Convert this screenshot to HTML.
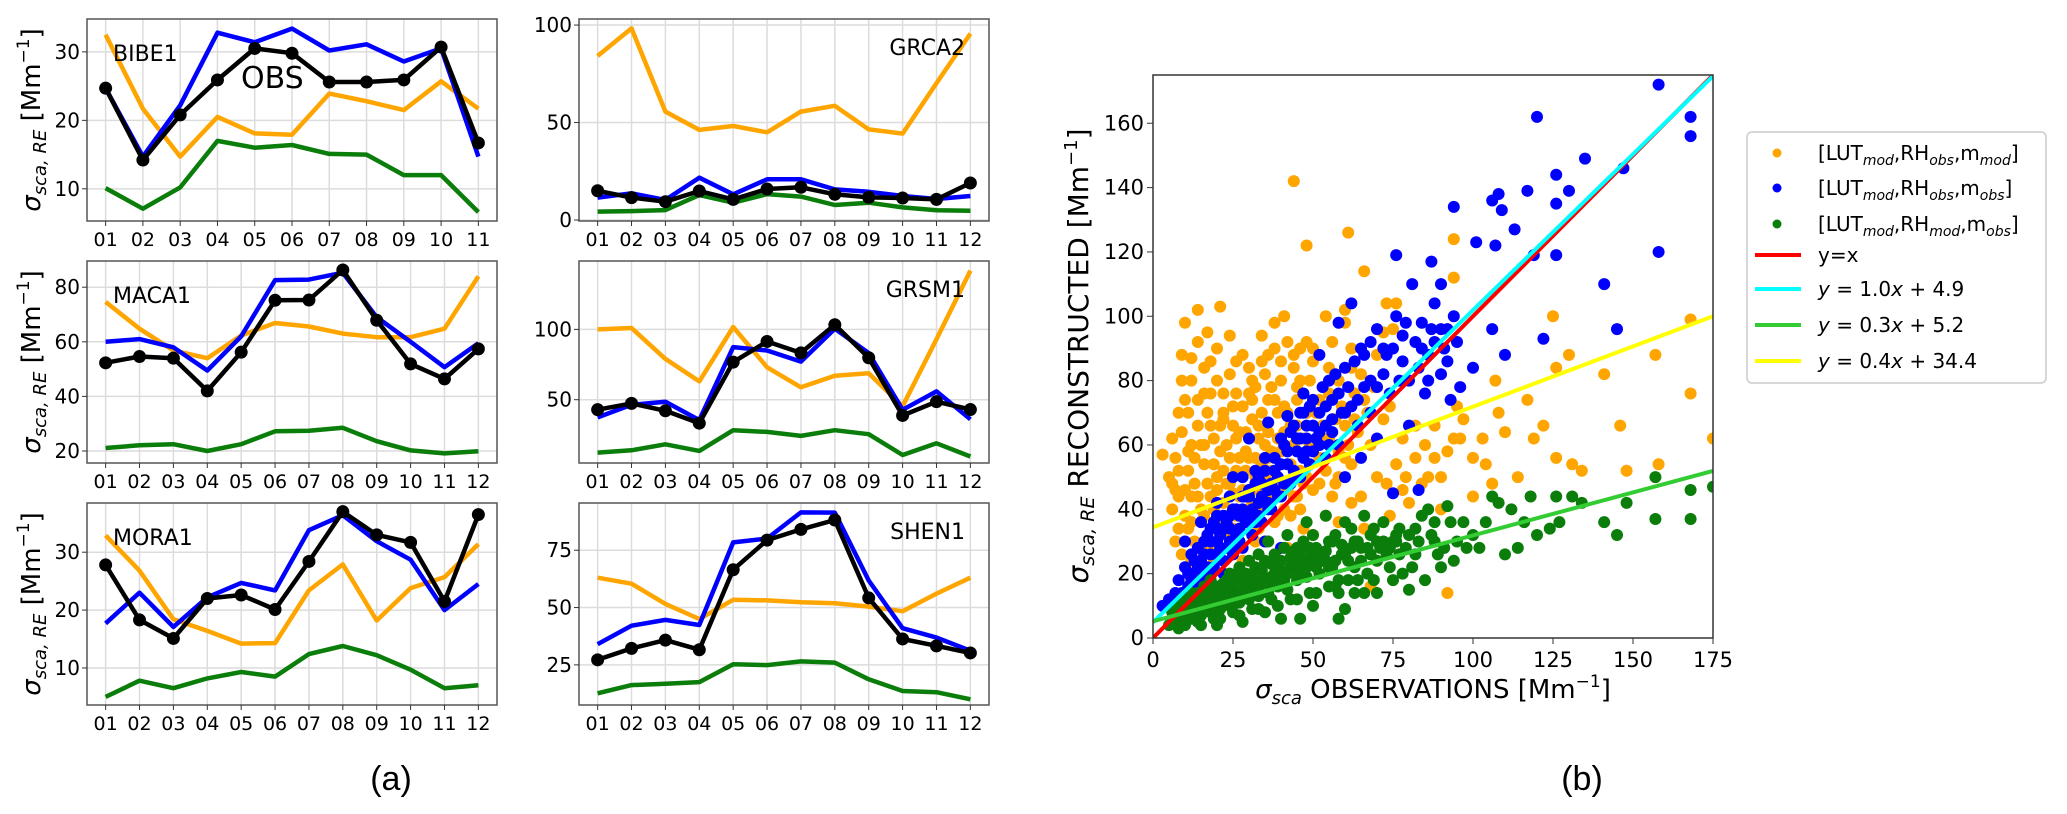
<!DOCTYPE html>
<html><head><meta charset="utf-8"><style>
html,body{margin:0;padding:0;background:#fff;}
svg{display:block;font-family:"DejaVu Sans","Liberation Sans",sans-serif;}
</style></head><body>
<svg id="fig" width="2067" height="814" xmlns="http://www.w3.org/2000/svg"></svg>
<script>
// ---------- Panel (a) data ----------
const monthsBIBE = ["01","02","03","04","05","06","07","08","09","10","11"];
const months12 = ["01","02","03","04","05","06","07","08","09","10","11","12"];
const bibeOrange = [32.5,21.7,14.7,20.5,18.1,17.9,23.9,22.8,21.5,25.7,21.7];
const bibeBlue = [24.7,14.7,22.2,32.8,31.4,33.4,30.2,31.1,28.6,30.5,14.7];
const bibeObs = [24.7,14.2,20.8,25.9,30.5,29.8,25.6,25.6,25.9,30.7,16.7];
const bibeGreen = [10.1,7.1,10.2,17.0,16.0,16.4,15.1,15.0,12.0,12.0,6.6];
const grcaOrange = [84.1,98.3,55.6,46.2,48.2,45.0,55.6,58.6,46.5,44.3,70.2,95.6];
const grcaBlue = [11.5,13.7,10.3,21.7,13.2,20.9,20.9,15.7,14.5,12.3,10.8,12.3];
const grcaObs = [15.0,11.5,9.4,14.9,10.6,15.9,16.8,13.2,11.6,11.3,10.6,19.0];
const grcaGreen = [4.3,4.6,5.1,12.8,8.9,13.3,12.0,7.7,8.9,6.5,5.0,4.8];
const macaOrange = [74.6,64.8,56.8,54.0,62.3,66.9,65.6,63.0,61.7,61.7,64.8,84.0];
const macaBlue = [60.0,61.0,58.0,49.5,62.0,82.6,82.8,85.3,69.0,60.0,50.7,59.5];
const macaObs = [52.3,54.6,54.0,42.0,56.2,75.2,75.3,86.3,67.9,51.9,46.4,57.4];
const macaGreen = [21.1,22.1,22.5,20.0,22.5,27.2,27.4,28.5,23.6,20.2,19.1,19.9];
const grsmOrange = [100,101,79,63,101.7,73,58.8,67,68.8,45.4,93,141.8];
const grsmBlue = [37.4,46.4,48.6,35.5,87.4,85,77.1,100.5,83.1,42.8,55.9,36.1];
const grsmObs = [42.9,47.4,42.1,33.3,76.7,91.4,83.3,103.3,79.8,38.8,48.6,43.0];
const grsmGreen = [12.4,14,18.3,13.6,28.3,27.1,24.3,28.3,25.5,10.7,19,9.6];
const moraOrange = [32.9,26.8,18.4,16.4,14.2,14.3,23.4,27.9,18.2,23.8,25.7,31.4];
const moraBlue = [17.7,23.0,17.1,22.2,24.7,23.4,33.8,36.4,31.9,28.7,20.0,24.5];
const moraObs = [27.8,18.3,15.1,22.0,22.6,20.1,28.4,37.0,33.0,31.7,21.5,36.5];
const moraGreen = [5.0,7.8,6.5,8.2,9.3,8.5,12.4,13.8,12.2,9.7,6.5,7.0];
const shenOrange = [63,60.4,51.6,45,53.4,53.1,52.3,51.9,50.4,48.4,56.1,63];
const shenBlue = [34,42.1,44.6,42.4,78.4,80.1,91.5,91.4,61.8,41,36.9,31.2];
const shenObs = [27.2,32.2,35.8,31.6,66.5,79.4,84.1,88.2,54.2,36.3,33.3,30.2];
const shenGreen = [12.6,16.2,16.8,17.5,25.3,24.9,26.5,26.0,18.7,13.6,13.1,10.0];
const ticksBIBE = [10,20,30];
const ticksGRCA = [0,50,100];
const ticksMACA = [20,40,60,80];
const ticksGRSM = [50,100];
const ticksMORA = [10,20,30];
const ticksSHEN = [25,50,75];

// ---------- Panel (b) data ----------
const xTicksB = [0,25,50,75,100,125,150,175];
const yTicksB = [0,20,40,60,80,100,120,140,160];
const fitSlopes = [1.0,0.97,0.267,0.375];
const fitIntercepts = [0,4.9,5.2,34.4];
const orangePtsA = [[44,142],[61,126],[48,122],[66,114],[94,124],[94,112],[21,103],[14,102],[10,98],[17,95],[24,94],[34,94],[41,100],[38,98],[60,98],[60,102],[54,100],[73,104],[76,104],[75,96],[72,95],[70,88],[9,88],[12,87],[9,80],[14,74],[18,76],[22,76],[28,72],[30,76],[31,80],[35,82],[40,80],[45,78],[50,86],[55,84],[58,80],[63,76],[66,74],[3,57],[6,62],[8,52],[10,46],[12,60],[14,66],[16,54],[19,62],[21,58],[23,48],[25,66],[27,56],[29,52],[31,68],[33,62],[35,50],[37,58],[39,70],[41,64],[43,54],[45,66],[47,48],[49,60],[52,56],[55,62],[57,48],[60,66],[62,54],[65,44],[68,60],[70,50],[73,48],[76,54],[79,50],[82,56],[85,60],[88,66],[90,50],[92,58],[95,72],[97,68],[100,56],[103,62],[106,48],[108,70],[114,50],[117,74],[119,62],[122,66],[125,100],[126,84],[126,56],[130,88],[131,54],[134,52],[141,82],[146,66],[148,52],[157,88],[158,54],[168,99],[168,76],[175,62],[107,80],[110,64],[6,40],[8,34],[10,30],[12,24],[15,40],[18,44],[20,36],[22,42],[26,38],[30,44],[34,40],[38,36],[42,28],[46,40],[50,32],[54,38],[58,36],[62,42],[66,34],[70,24],[74,38],[78,46],[80,42],[86,50],[92,14],[68,16],[28,24],[15,20],[20,28],[24,32],[11,70],[16,84],[26,86],[36,88],[46,90],[52,74],[56,92],[62,90],[5,50],[17,48],[27,44],[32,30],[13,56],[18,66],[24,56],[20,50],[26,62],[32,56],[36,64],[40,58],[44,60],[48,70],[11,52],[7,46],[22,68],[29,64],[38,74],[42,70],[16,60],[12,44],[19,40],[25,45],[33,46],[37,52],[53,66],[58,58],[64,64],[72,68],[88,56],[94,62],[100,44],[90,40],[20,80],[34,70],[44,84],[62,84],[74,72],[82,66],[96,62],[104,54],[78,62],[84,48]];
const orangePtsB = [[7,56],[9,64],[11,58],[13,48],[15,60],[17,70],[19,54],[21,66],[23,60],[25,72],[27,64],[29,58],[31,74],[33,66],[35,60],[37,78],[39,62],[41,72],[43,66],[45,74],[47,62],[49,80],[51,70],[53,62],[55,76],[57,68],[59,72],[61,60],[63,68],[65,82],[67,70],[69,78],[8,70],[10,74],[12,80],[14,92],[16,76],[18,86],[20,90],[22,70],[24,82],[26,76],[28,88],[30,84],[32,78],[34,86],[36,74],[38,90],[40,86],[42,92],[44,88],[46,80],[48,92],[50,90],[6,48],[8,44],[10,38],[12,36],[14,44],[16,38],[18,34],[20,46],[22,52],[24,48],[26,52],[28,46],[30,56],[32,50],[34,54],[36,56],[38,44],[40,48],[42,46],[44,44],[46,52],[48,50],[50,46],[52,48],[54,52],[56,44],[58,50],[60,56],[7,30],[9,26],[11,34],[13,30],[17,28],[19,24],[21,32],[23,38],[25,34],[27,30],[29,36],[31,42],[33,34],[35,40],[37,44],[39,38],[41,40],[43,38],[45,44],[47,34]];
const bluePtsA = [[3,10],[5,12],[7,14],[8,18],[10,22],[11,16],[12,26],[13,20],[14,28],[15,24],[16,18],[17,32],[18,26],[19,22],[20,34],[21,28],[22,20],[23,36],[24,30],[25,26],[26,40],[27,34],[28,28],[29,44],[30,38],[31,32],[32,48],[33,42],[34,36],[35,52],[36,46],[37,40],[38,56],[39,50],[40,44],[41,60],[42,54],[43,48],[44,66],[45,58],[46,50],[47,70],[48,62],[49,54],[50,74],[52,64],[54,56],[55,80],[56,68],[58,60],[60,84],[62,72],[64,66],[65,90],[66,78],[68,70],[70,96],[72,82],[74,76],[75,90],[76,100],[78,86],[80,80],[82,92],[84,98],[85,76],[86,88],[88,104],[90,96],[92,86],[94,100],[96,78],[93,74],[90,110],[76,119],[81,110],[87,117],[94,134],[101,123],[106,136],[107,122],[108,138],[109,133],[113,127],[117,139],[119,119],[120,162],[122,93],[126,144],[126,135],[126,119],[130,139],[135,149],[141,110],[145,96],[147,146],[158,172],[158,120],[168,162],[168,156],[110,88],[106,96],[100,84],[75,45],[83,46],[62,104],[58,98],[30,62],[25,50],[20,42],[42,69],[36,67],[47,76],[52,88],[55,60],[15,36],[10,30],[65,56],[70,62],[80,66],[86,80],[90,82],[95,92],[60,50],[40,28],[35,30],[18,30],[22,34],[26,32],[30,44],[34,48],[38,46],[28,40],[24,38],[32,36],[36,42],[44,52],[48,58],[52,60],[56,64],[60,70],[64,74],[68,80],[72,90],[78,94],[84,90],[88,92],[92,96],[14,22],[20,30],[16,26],[12,20],[19,36],[27,30],[33,50],[40,54],[46,62],[50,66],[54,72],[58,76]];
const bluePtsB = [[9,14],[11,20],[13,24],[15,20],[17,22],[18,34],[20,26],[21,32],[22,38],[23,28],[24,34],[25,40],[26,30],[27,38],[28,44],[29,36],[30,46],[31,40],[32,52],[33,38],[34,44],[35,56],[36,40],[37,48],[38,52],[39,44],[40,62],[41,48],[42,58],[43,64],[44,50],[45,62],[46,70],[47,56],[48,66],[49,72],[50,58],[51,62],[52,70],[53,78],[54,66],[56,74],[57,82],[59,70],[61,78],[63,86],[66,88],[68,92],[70,78],[73,88],[77,80],[79,98],[83,84],[87,96],[91,90],[20,38],[16,30],[24,44],[28,50],[12,18],[14,16],[18,20],[22,24],[26,28],[31,36]];
const greenPtsA = [[5,4],[6,8],[7,6],[8,10],[9,5],[10,8],[11,12],[12,6],[13,10],[14,14],[15,7],[16,11],[17,15],[18,8],[19,12],[20,16],[21,9],[22,13],[23,18],[24,10],[25,14],[26,19],[27,11],[28,15],[29,20],[30,12],[31,17],[32,22],[33,13],[34,18],[35,24],[36,14],[37,19],[38,26],[39,16],[40,21],[41,28],[42,15],[43,22],[44,27],[45,18],[46,24],[47,30],[48,19],[49,25],[50,32],[52,20],[54,27],[55,22],[56,30],[58,18],[60,26],[62,34],[63,22],[65,28],[66,14],[68,32],[70,24],[72,36],[74,22],[75,30],[77,34],[78,20],[80,32],[82,26],[84,38],[86,40],[88,30],[90,22],[92,41],[93,36],[95,30],[97,36],[100,32],[102,28],[104,36],[106,44],[108,42],[110,26],[112,40],[114,28],[116,36],[118,44],[120,32],[124,34],[126,44],[127,36],[131,44],[134,42],[141,36],[145,32],[148,42],[157,50],[157,37],[168,46],[168,37],[175,47],[40,6],[46,6],[58,6],[60,9],[50,10],[35,8],[28,5],[20,4],[15,4],[10,4],[58,14],[64,18],[70,14],[80,15],[85,18],[12,14],[18,18],[24,20],[30,24],[36,30],[42,32],[48,36],[54,38],[60,36],[66,38],[72,30],[8,6],[11,9],[14,10],[17,12],[20,10],[23,14],[26,12],[29,16],[32,14],[35,18],[38,20],[41,18],[44,22],[47,20],[50,24],[53,24],[56,22],[59,26],[62,28],[65,24],[68,26],[71,28],[74,28],[77,26],[13,6],[19,6],[25,8],[31,9],[37,12],[43,12],[49,14],[55,16],[61,18],[67,20],[9,12],[16,16],[22,16],[27,22],[33,26],[39,24],[45,28],[51,28],[57,32],[63,30],[69,34],[76,32],[82,34],[88,36]];
const greenPtsB = [[6,5],[7,9],[9,7],[10,11],[12,9],[13,13],[15,10],[16,14],[18,11],[19,15],[21,12],[22,17],[24,13],[25,17],[27,14],[28,18],[30,15],[31,20],[33,16],[34,21],[36,17],[37,23],[39,19],[40,24],[42,20],[43,25],[45,21],[46,27],[48,22],[49,28],[51,22],[52,26],[54,24],[55,30],[57,24],[59,29],[61,24],[64,30],[67,28],[70,30],[73,26],[76,30],[79,28],[83,30],[87,32],[91,28],[8,3],[14,5],[21,6],[27,7],[33,9],[39,10],[45,12],[51,14],[57,16],[63,14],[69,18],[75,18],[81,22],[89,26],[94,24],[98,28]];
const orangePts = orangePtsA.concat(orangePtsB);
const bluePts = bluePtsA.concat(bluePtsB);
const greenPts = greenPtsA.concat(greenPtsB);

const NS = "http://www.w3.org/2000/svg";
const svg = document.getElementById("fig");
function mk(tag, attrs, parent) {
  const e = document.createElementNS(NS, tag);
  for (const k in attrs) e.setAttribute(k, attrs[k]);
  (parent || svg).appendChild(e);
  return e;
}
function txt(str, attrs, parent) {
  const t = mk("text", attrs, parent);
  t.textContent = str;
  return t;
}

const panels = [
  {name:"BIBE1", left:87, top:19, months:monthsBIBE, ylim:[5.3,34.8], ticks:ticksBIBE, series:[bibeGreen,bibeOrange,bibeBlue,bibeObs], labelLeft:true, ylabel:true},
  {name:"GRCA2", left:579, top:19, months:months12, ylim:[-0.5,103.1], ticks:ticksGRCA, series:[grcaGreen,grcaOrange,grcaBlue,grcaObs], labelLeft:false, ylabel:false},
  {name:"MACA1", left:87, top:261, months:months12, ylim:[15.6,89.6], ticks:ticksMACA, series:[macaGreen,macaOrange,macaBlue,macaObs], labelLeft:true, ylabel:true},
  {name:"GRSM1", left:579, top:261, months:months12, ylim:[5,148.6], ticks:ticksGRSM, series:[grsmGreen,grsmOrange,grsmBlue,grsmObs], labelLeft:false, ylabel:false},
  {name:"MORA1", left:87, top:503, months:months12, ylim:[3.6,38.5], ticks:ticksMORA, series:[moraGreen,moraOrange,moraBlue,moraObs], labelLeft:true, ylabel:true},
  {name:"SHEN1", left:579, top:503, months:months12, ylim:[7.5,95.6], ticks:ticksSHEN, series:[shenGreen,shenOrange,shenBlue,shenObs], labelLeft:false, ylabel:false}
];
const W = 410, H = 202;
const colors = ["#0a7d0a","#ffa500","#0000ff","#000000"];
const seriesNames = ["green-series","orange-series","blue-series","obs-series"];

panels.forEach(p => {
  const g = mk("g", {});
  
  
  const n = p.months.length;
  const xs = i => p.left + W * (i + 0.05*(n-1)) / (1.1*(n-1));
  const ys = v => p.top + H - (v - p.ylim[0]) / (p.ylim[1] - p.ylim[0]) * H;
  p.months.forEach((m,i) => {
    const l = mk("line", {x1:xs(i), x2:xs(i), y1:p.top, y2:p.top+H, stroke:"#dcdcdc", "stroke-width":1.5}, g);
    
    
  });
  p.ticks.forEach(t => {
    const l = mk("line", {x1:p.left, x2:p.left+W, y1:ys(t), y2:ys(t), stroke:"#dcdcdc", "stroke-width":1.5}, g);
    
    
  });
  p.series.forEach((s,k) => {
    const pts = s.map((v,i) => xs(i).toFixed(1)+","+ys(v).toFixed(1)).join(" ");
    const pl = mk("polyline", {points:pts, fill:"none", stroke:colors[k], "stroke-width":4.5, "stroke-linejoin":"round"}, g);
    
    
    if (k === 3) {
      s.forEach((v,i) => {
        const c = mk("circle", {cx:xs(i), cy:ys(v), r:6.5, fill:"#000"}, g);
        
        
      });
    }
  });
  const fr = mk("rect", {x:p.left, y:p.top, width:W, height:H, fill:"none", stroke:"#555", "stroke-width":1.5}, g);
  
  
  p.months.forEach((m,i) => {
    mk("line", {x1:xs(i), x2:xs(i), y1:p.top+H, y2:p.top+H+5, stroke:"#333", "stroke-width":1}, g);
    const t = txt(m, {x:xs(i), y:p.top+H+25, "font-size":19, "text-anchor":"middle", fill:"#000"}, g);
    
    
  });
  p.ticks.forEach(v => {
    mk("line", {x1:p.left-5, x2:p.left, y1:ys(v), y2:ys(v), stroke:"#333", "stroke-width":1}, g);
    const t = txt(String(v), {x:p.left-7, y:ys(v)+7, "font-size":20, "text-anchor":"end", fill:"#000"}, g);
    
    
  });
  const lab = p.labelLeft
    ? txt(p.name, {x:p.left+26, y:p.top+42, "font-size":22, fill:"#000"}, g)
    : txt(p.name, {x:p.left+W-24, y:p.top+36, "font-size":22, "text-anchor":"end", fill:"#000"}, g);
  
  
  if (p.ylabel) {
    const cy = p.top + H/2;
    const yl = mk("text", {x:0, y:0, transform:`translate(40,${cy}) rotate(-90)`, "font-size":26, "text-anchor":"middle", fill:"#000"}, g);
    yl.innerHTML = '<tspan font-style="italic">σ</tspan><tspan font-style="italic" font-size="18" dy="6">sca, RE</tspan><tspan dy="-6"> [Mm</tspan><tspan font-size="17" dy="-11">−1</tspan><tspan dy="11">]</tspan>';
    
    
  }
});
const obs = txt("OBS", {x:241, y:88, "font-size":30, fill:"#000"});


const la = txt("(a)", {x:391, y:790, "font-size":34, "text-anchor":"middle", fill:"#000", "font-family":"Liberation Sans, sans-serif"});


const lb = txt("(b)", {x:1582, y:790, "font-size":34, "text-anchor":"middle", fill:"#000", "font-family":"Liberation Sans, sans-serif"});



// ---------- Scatter ----------
const SX0 = 1153, SX1 = 1713, SY0 = 638, SY1 = 75;
const sx = v => SX0 + v/175*(SX1-SX0);
const sy = v => SY0 - v/175*(SY0-SY1);
const sg = mk("g", {});


mk("clipPath", {id:"clipB"}, sg);
mk("rect", {x:SX0, y:SY1, width:SX1-SX0, height:SY0-SY1}, svg.querySelector("#clipB"));
const pg = mk("g", {"clip-path":"url(#clipB)"}, sg);
[[orangePts,"#ffa500","orange-point"],[bluePts,"#0000ff","blue-point"],[greenPts,"#0a7d0a","green-point"]].forEach(([arr,col,nm]) => {
  arr.forEach(([x,y]) => {
    const c = mk("circle", {cx:sx(x), cy:sy(y), r:6, fill:col}, pg);
    
    
  });
});
const fitColors = ["#ff0000","#00ffff","#33cc33","#ffff00"];
const fitNames = ["identity-line","blue-fit-line","green-fit-line","orange-fit-line"];
fitSlopes.forEach((m,i) => {
  const b = fitIntercepts[i];
  const l = mk("line", {x1:sx(0), y1:sy(b), x2:sx(175), y2:sy(m*175+b), stroke:fitColors[i], "stroke-width":4}, pg);
  
  
});
const sf = mk("rect", {x:SX0, y:SY1, width:SX1-SX0, height:SY0-SY1, fill:"none", stroke:"#333", "stroke-width":1.5}, sg);


xTicksB.forEach(v => {
  mk("line", {x1:sx(v), x2:sx(v), y1:SY0, y2:SY0+6, stroke:"#333"}, sg);
  const t = txt(String(v), {x:sx(v), y:SY0+29, "font-size":21, "text-anchor":"middle", fill:"#000"}, sg);
  
  
});
yTicksB.forEach(v => {
  mk("line", {x1:SX0-6, x2:SX0, y1:sy(v), y2:sy(v), stroke:"#333"}, sg);
  const t = txt(String(v), {x:SX0-9, y:sy(v)+7, "font-size":21, "text-anchor":"end", fill:"#000"}, sg);
  
  
});
const xl = mk("text", {x:1433, y:698, "font-size":26, "text-anchor":"middle", fill:"#000"}, sg);
xl.innerHTML = '<tspan font-style="italic">σ</tspan><tspan font-style="italic" font-size="18" dy="6">sca</tspan><tspan dy="-6"> OBSERVATIONS [Mm</tspan><tspan font-size="17" dy="-11">−1</tspan><tspan dy="11">]</tspan>';


const yl2 = mk("text", {x:0, y:0, transform:"translate(1088,356) rotate(-90)", "font-size":28, "text-anchor":"middle", fill:"#000"}, sg);
yl2.innerHTML = '<tspan font-style="italic">σ</tspan><tspan font-style="italic" font-size="19" dy="6">sca, RE</tspan><tspan dy="-6">  RECONSTRUCTED [Mm</tspan><tspan font-size="18" dy="-11">−1</tspan><tspan dy="11">]</tspan>';



const lg = mk("g", {});


mk("rect", {x:1747, y:132, width:299, height:251, rx:5, fill:"#fff", stroke:"#ccc", "stroke-width":1.5}, lg);
const legItems = [
  {type:"dot", col:"#ffa500", html:'[LUT<tspan font-size="14" dy="5" font-style="italic">mod</tspan><tspan dy="-5">,RH</tspan><tspan font-size="14" dy="5" font-style="italic">obs</tspan><tspan dy="-5">,m</tspan><tspan font-size="14" dy="5" font-style="italic">mod</tspan><tspan dy="-5">]</tspan>', y:153},
  {type:"dot", col:"#0000ff", html:'[LUT<tspan font-size="14" dy="5" font-style="italic">mod</tspan><tspan dy="-5">,RH</tspan><tspan font-size="14" dy="5" font-style="italic">obs</tspan><tspan dy="-5">,m</tspan><tspan font-size="14" dy="5" font-style="italic">obs</tspan><tspan dy="-5">]</tspan>', y:188},
  {type:"dot", col:"#0a7d0a", html:'[LUT<tspan font-size="14" dy="5" font-style="italic">mod</tspan><tspan dy="-5">,RH</tspan><tspan font-size="14" dy="5" font-style="italic">mod</tspan><tspan dy="-5">,m</tspan><tspan font-size="14" dy="5" font-style="italic">obs</tspan><tspan dy="-5">]</tspan>', y:224},
  {type:"line", col:"#ff0000", html:'y=x', y:255},
  {type:"line", col:"#00ffff", html:'<tspan font-style="italic">y</tspan> = 1.0<tspan font-style="italic">x</tspan> + 4.9', y:289},
  {type:"line", col:"#33cc33", html:'<tspan font-style="italic">y</tspan> = 0.3<tspan font-style="italic">x</tspan> + 5.2', y:325},
  {type:"line", col:"#ffff00", html:'<tspan font-style="italic">y</tspan> = 0.4<tspan font-style="italic">x</tspan> + 34.4', y:361}
];
legItems.forEach(it => {
  const eg = mk("g", {}, lg);
  
  
  if (it.type === "dot") mk("circle", {cx:1777, cy:it.y, r:4.5, fill:it.col}, eg);
  else mk("line", {x1:1755, x2:1801, y1:it.y, y2:it.y, stroke:it.col, "stroke-width":4}, eg);
  const t = mk("text", {x:1818, y:it.y+7, "font-size":20, fill:"#000"}, eg);
  t.innerHTML = it.html;
});
</script>
</body></html>
